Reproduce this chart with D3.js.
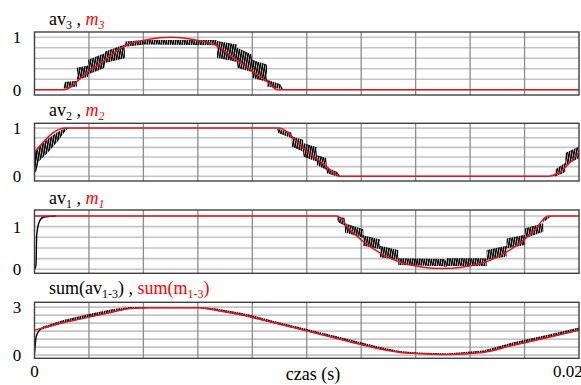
<!DOCTYPE html>
<html>
<head>
<meta charset="utf-8">
<script src="https://cdn.jsdelivr.net/npm/d3@7"></script>
<style>
  body { margin: 0; background: #fff; }
  svg text { font-family: Liberation Serif, DejaVu Serif, serif; }
</style>
</head>
<body>
<div id="chart"></div>
<script>
// ---- time axis (czas w sekundach, dane ponizej w ms) ----
var xTickVals = [0, 0.02];
var xTickLabels = ["0", "0.02"];
var xTitle = "czas (s)";

// ---- panel 1 : av3, m3 ----
var yGrid1 = [0, 0.2, 0.4, 0.6, 0.8, 1];
var yLab1 = [0, 1];
var m3T = [0, 1.06, 1.98, 2.59, 3.39, 4.0, 4.6, 5.0, 5.4, 6.0, 6.61, 7.41, 8.02, 8.55, 8.94, 20];
var m3V = [0, 0, 0.35, 0.57, 0.86, 0.94, 0.99, 1.0, 0.99, 0.94, 0.86, 0.57, 0.35, 0.15, 0, 0];
var av3T  = [1.06, 1.10, 1.56, 1.56, 1.97, 1.97, 2.59, 2.59, 3.32, 3.32, 4.06, 6.70, 6.70, 7.44, 7.44, 7.99, 7.99, 8.54, 8.54, 9.02, 9.13];
var av3Lo = [0.00, 0.03, 0.06, 0.19, 0.25, 0.29, 0.42, 0.51, 0.60, 0.82, 0.86, 0.85, 0.61, 0.53, 0.42, 0.34, 0.23, 0.15, 0.06, 0.02, 0.00];
var av3Hi = [0.02, 0.15, 0.17, 0.42, 0.46, 0.57, 0.70, 0.73, 0.86, 0.92, 0.95, 0.95, 0.93, 0.86, 0.80, 0.67, 0.57, 0.48, 0.19, 0.11, 0.02];

// ---- panel 2 : av2, m2 ----
var yGrid2 = [0, 0.2, 0.4, 0.6, 0.8, 1];
var yLab2 = [0, 1];
var m2T = [0, 1.12, 8.95, 10.0, 10.6, 11.0, 11.2, 18.9, 20];
var m2V = [0.5, 1.0, 1.0, 0.52, 0.26, 0.07, 0, 0, 0.5];
var av2StartT = [0, 0.06];
var av2StartV = [0.08, 0.55];
var av2T  = [0.00, 0.06, 0.15, 0.50, 0.85, 1.15, 1.25, null, 8.90, 8.95, 9.45, 9.45, 9.87, 9.87, 10.37, 10.37, 10.73, 10.73, 11.10, 11.22, null, 19.10, 19.15, 19.50, 19.50, 20.0];
var av2Lo = [0.08, 0.10, 0.30, 0.50, 0.72, 0.95, 1.00, null, 1.00, 0.90, 0.79, 0.62, 0.51, 0.41, 0.30, 0.235, 0.13, 0.06, 0.00, 0.00, null, 0.00, 0.00, 0.08, 0.22, 0.38];
var av2Hi = [0.10, 0.55, 0.60, 0.78, 0.92, 1.00, 1.00, null, 1.00, 0.98, 0.91, 0.825, 0.76, 0.69, 0.60, 0.44, 0.375, 0.17, 0.10, 0.01, null, 0.02, 0.15, 0.28, 0.48, 0.62];

// ---- panel 3 : av1, m1 ----
var yGrid3 = [0, 0.25, 0.5, 0.75, 1, 1.25];
var yLab3 = [0, 1];
var m1T = [0, 11.10, 11.59, 12.08, 12.81, 13.55, 14.27, 14.99, 15.70, 16.43, 17.16, 17.90, 18.38, 18.87, 20];
var m1V = [1.25, 1.25, 0.93, 0.65, 0.34, 0.14, 0.05, 0.02, 0.05, 0.14, 0.34, 0.65, 0.93, 1.25, 1.25];
var av1StartT = [0, 0.055, 0.08, 0.18, 0.32, 0.57, 0.8];
var av1StartV = [0, 0.1, 0.8, 1.12, 1.22, 1.24, 1.25];
var av1T  = [11.10, 11.15, 11.40, 11.40, 12.08, 12.08, 12.69, 12.69, 13.36, 13.36, 15.05, 15.10, 15.15, 16.61, 16.61, 17.34, 17.34, 18.02, 18.02, 18.69, 18.69, 18.94, 19.0];
var av1Lo = [1.25, 1.10, 1.02, 0.86, 0.74, 0.55, 0.47, 0.28, 0.22, 0.10, 0.07, 0.03, 0.08, 0.08, 0.22, 0.30, 0.49, 0.57, 0.73, 0.88, 1.10, 1.22, 1.25];
var av1Hi = [1.25, 1.24, 1.20, 1.08, 0.94, 0.80, 0.70, 0.55, 0.45, 0.26, 0.24, 0.20, 0.26, 0.26, 0.45, 0.55, 0.72, 0.81, 0.96, 1.08, 1.20, 1.25, 1.25];

// ---- panel 4 : sum ----
var yGrid4 = [0, 0.5, 1, 1.5, 2, 2.5, 3];
var yLab4 = [0, 3];
var sumT = [0, 1.06, 2.04, 2.89, 3.51, 4.24, 6.08, 6.69, 7.67, 8.65, 9.63, 10.61, 11.59, 12.69, 13.42, 14.04, 15.14, 16.48, 17.59, 18.81, 20];
var sumV = [1.56, 2.02, 2.39, 2.70, 2.92, 2.96, 2.96, 2.81, 2.50, 2.08, 1.67, 1.25, 0.83, 0.375, 0.17, 0.10, 0.04, 0.17, 0.62, 1.08, 1.56];
var sumStartT = [0, 0.06, 0.14, 0.26];
var sumStartV = [0.1, 1.14, 1.46, 1.67];
var sumAvT  = [0.26, 1.06, 2.04, 2.89, 3.51, 4.24, 6.08, 6.69, 7.67, 8.65, 9.63, 10.61, 11.59, 12.69, 13.42, 14.04, 15.14, 16.48, 17.59, 18.81, 20];
var sumAvLo = [1.60, 2.00, 2.37, 2.68, 2.90, 2.93, 2.93, 2.76, 2.45, 2.04, 1.63, 1.22, 0.80, 0.36, 0.15, 0.08, 0.03, 0.15, 0.60, 1.06, 1.54];
var sumAvHi = [1.75, 2.20, 2.58, 2.88, 3.00, 3.00, 3.00, 2.92, 2.62, 2.20, 1.78, 1.38, 0.97, 0.50, 0.26, 0.16, 0.10, 0.28, 0.80, 1.26, 1.72];

var width = 581, height = 385;
var plotL = 34.5, plotR = 579;
var serif = "Liberation Serif, DejaVu Serif, serif";

var svg = d3.select("#chart").append("svg")
    .attr("width", width)
    .attr("height", height);

var x = d3.scaleLinear().domain([0, 0.02]).range([plotL, plotR]);

// hatch = gesty ripple PWM
var defs = svg.append("defs");
defs.append("pattern")
    .attr("id", "ripple")
    .attr("patternUnits", "userSpaceOnUse")
    .attr("patternTransform", "rotate(10)")
    .attr("width", 2.3).attr("height", 20)
  .append("rect")
    .attr("width", 1.7).attr("height", 20)
    .attr("fill", "#000");

var panels = [
  {top: 32, bottom: 95, dom: [-0.1, 1.1], grid: yGrid1, labels: yLab1, titleY: 25,
   title: [["av", "#000", ""], ["3", "#000", "sub"], [" , ", "#000", ""], ["m", "red", "it"], ["3", "red", "itsub"]],
   red: [m3T, m3V], band: [av3T, av3Lo, av3Hi], start: null},
  {top: 123.3, bottom: 181, dom: [-0.1, 1.1], grid: yGrid2, labels: yLab2, titleY: 115.5,
   title: [["av", "#000", ""], ["2", "#000", "sub"], [" , ", "#000", ""], ["m", "red", "it"], ["2", "red", "itsub"]],
   red: [m2T, m2V], band: [av2T, av2Lo, av2Hi], start: [av2StartT, av2StartV]},
  {top: 210, bottom: 273.3, dom: [-0.094, 1.39], grid: yGrid3, labels: yLab3, titleY: 204,
   title: [["av", "#000", ""], ["1", "#000", "sub"], [" , ", "#000", ""], ["m", "red", "it"], ["1", "red", "itsub"]],
   red: [m1T, m1V], band: [av1T, av1Lo, av1Hi], start: [av1StartT, av1StartV]},
  {top: 302.3, bottom: 358.3, dom: [-0.2, 3.3], grid: yGrid4, labels: yLab4, titleY: 294,
   title: [["sum(av", "#000", ""], ["1-3", "#000", "sub"], [")", "#000", ""], [" , ", "#000", ""],
           ["sum(m", "red", ""], ["1-3", "red", "sub"], [")", "red", ""]],
   red: [sumT, sumV], band: [sumAvT, sumAvLo, sumAvHi], start: [sumStartT, sumStartV]}
];

panels.forEach(function(p, i) {
  var y = d3.scaleLinear().domain(p.dom).range([p.bottom, p.top]);
  var g = svg.append("g");

  defs.append("clipPath").attr("id", "clip" + i)
    .append("rect")
      .attr("x", plotL).attr("y", p.top)
      .attr("width", plotR - plotL).attr("height", p.bottom - p.top);

  // grid poziomy
  g.selectAll(".hgrid").data(p.grid).enter().append("line")
      .attr("x1", plotL).attr("x2", plotR)
      .attr("y1", function(d) { return y(d); })
      .attr("y2", function(d) { return y(d); })
      .attr("stroke", "#c4c4c4").attr("stroke-width", 1.6);

  // grid pionowy co 0.002 s
  g.selectAll(".vgrid").data(x.ticks(10).slice(1, -1)).enter().append("line")
      .attr("x1", function(d) { return x(d); })
      .attr("x2", function(d) { return x(d); })
      .attr("y1", p.top).attr("y2", p.bottom)
      .attr("stroke", "#8c8c8c").attr("stroke-width", 1.3);

  var plot = g.append("g").attr("clip-path", "url(#clip" + i + ")");

  // av : pasmo z tetnieniami
  var bandPts = p.band[0].map(function(t, k) {
    return {t: t, lo: p.band[1][k], hi: p.band[2][k]};
  });
  plot.append("path")
      .datum(bandPts)
      .attr("d", d3.area()
        .defined(function(d) { return d.t !== null; })
        .x(function(d) { return x(d.t / 1000); })
        .y0(function(d) { return y(d.lo); })
        .y1(function(d) { return y(d.hi); }))
      .attr("fill", "url(#ripple)");

  if (p.start) {
    plot.append("path")
        .datum(p.start[0].map(function(t, k) { return [t, p.start[1][k]]; }))
        .attr("d", d3.line()
          .x(function(d) { return x(d[0] / 1000); })
          .y(function(d) { return y(d[1]); })
          .curve(d3.curveMonotoneX))
        .attr("fill", "none").attr("stroke", "#000").attr("stroke-width", 1.4);
  }

  // m : czerwona linia
  plot.append("path")
      .datum(p.red[0].map(function(t, k) { return [t, p.red[1][k]]; }))
      .attr("d", d3.line()
        .x(function(d) { return x(d[0] / 1000); })
        .y(function(d) { return y(d[1]); })
        .curve(d3.curveMonotoneX))
      .attr("fill", "none").attr("stroke", "#e8141c").attr("stroke-width", 1.5);

  // ramka
  g.append("rect")
      .attr("x", plotL).attr("y", p.top)
      .attr("width", plotR - plotL).attr("height", p.bottom - p.top)
      .attr("fill", "none").attr("stroke", "#404040").attr("stroke-width", 1.4);

  // etykiety osi y
  g.selectAll(".ylab").data(p.labels).enter().append("text")
      .attr("x", 17)
      .attr("y", function(d) { return y(d) + 6; })
      .attr("text-anchor", "middle")
      .style("font-family", serif)
      .attr("font-size", "17px")
      .text(function(d) { return d; });

  // tytul
  var tt = g.append("text").attr("x", 49).attr("y", p.titleY)
      .style("font-family", serif).attr("font-size", "18px");
  var shifted = false;
  p.title.forEach(function(s) {
    var span = tt.append("tspan").attr("fill", s[1]).text(s[0]);
    var isSub = s[2].indexOf("sub") >= 0;
    if (s[2].indexOf("it") >= 0) span.attr("font-style", "italic");
    if (isSub && !shifted) { span.attr("dy", 4).attr("font-size", "12px"); shifted = true; }
    else if (isSub) span.attr("font-size", "12px");
    else if (shifted) { span.attr("dy", -4); shifted = false; }
  });
});

// os czasu
svg.append("text")
    .attr("x", x(xTickVals[0])).attr("y", 377)
    .attr("text-anchor", "middle").style("font-family", serif).attr("font-size", "17px")
    .text(xTickLabels[0]);
svg.append("text")
    .attr("x", x(xTickVals[1]) - 26).attr("y", 377)
    .attr("text-anchor", "start").style("font-family", serif).attr("font-size", "17px")
    .text(xTickLabels[1]);
svg.append("text")
    .attr("x", 313).attr("y", 380)
    .attr("text-anchor", "middle").style("font-family", serif).attr("font-size", "18px")
    .text(xTitle);
</script>
</body>
</html>
